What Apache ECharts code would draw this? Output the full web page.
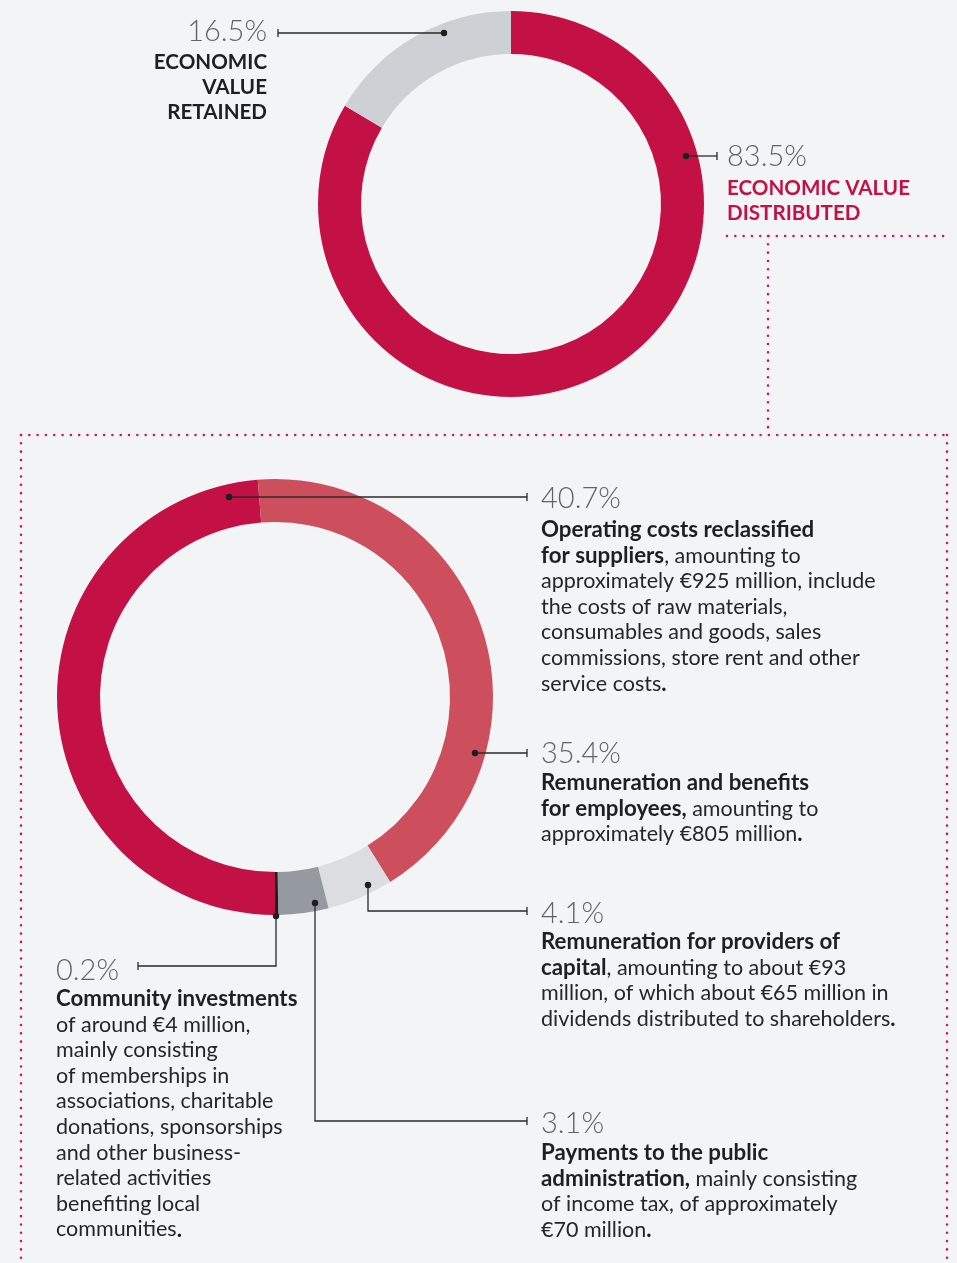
<!DOCTYPE html>
<html>
<head>
<meta charset="utf-8">
<script src="https://cdn.jsdelivr.net/npm/echarts@6/dist/echarts.min.js"></script>
<style>
html,body{margin:0;padding:0;background:#F3F4F6;}
#c{width:957px;height:1263px;}
</style>
</head>
<body>
<div id="c"></div>
<script>
// ---- data ----
const topCategories = ['Economic value distributed', 'Economic value retained'];
const topValues = [83.5, 16.5];
const bottomCategories = [
  'Operating costs reclassified for suppliers',
  'Remuneration and benefits for employees',
  'Remuneration for providers of capital',
  'Payments to the public administration',
  'Community investments'
];
const bottomValues = [40.7, 35.4, 4.1, 3.1, 0.2];

// ---- styles ----
const CRIMSON = '#C41145';
const topColors = [CRIMSON, '#CDD0D4'];
const bottomColors = [CRIMSON, '#CD4F5E', '#DCDDE0', '#959AA1', '#1E1E1E'];
const FONT = 'Lato, "Noto Sans", sans-serif';
const PCT_COLOR = '#5F646A';
const TXT = '#262626';
const LINE = '#2A2A2A';
const DOT = '#D3175A';

const chart = echarts.init(document.getElementById('c'), null, {renderer: 'canvas'});

function pct(v){ return v.toFixed(1) + '%'; }

const g = [];
const Z = 100;
// leader line helper: points from dot to tick
function leader(points, tickX, tickY){
  g.push({type:'polyline', z:Z, silent:true, shape:{points:points}, style:{stroke:LINE, lineWidth:1.3, fill:null}});
  g.push({type:'circle', z:Z, silent:true, shape:{cx:points[0][0], cy:points[0][1], r:3.2}, style:{fill:'#1E1E1E'}});
  g.push({type:'line', z:Z, silent:true, shape:{x1:tickX, y1:tickY-4, x2:tickX, y2:tickY+4}, style:{stroke:LINE, lineWidth:1.3}});
}
function dotted(x1,y1,x2,y2){
  g.push({type:'line', z:Z, silent:true, shape:{x1,y1,x2,y2}, style:{stroke:DOT, lineWidth:2.6, lineCap:'round', lineDash:[0.01, 8.3]}});
}
function pctText(s, x, y, align){
  g.push({type:'text', z:Z, silent:true, style:{text:s, x:x, y:y, textAlign:align||'left', textVerticalAlign:'middle',
    font:'300 29px ' + FONT, fill:PCT_COLOR}});
}
const rich = {
  b:{font:'bold 22.3px ' + FONT, fill:'#1F1F1F', lineHeight:25.6},
  r:{font:'21.5px ' + FONT, fill:TXT, lineHeight:25.6}
};
function body(lines, x, yFirstCenter){
  g.push({type:'text', z:Z, silent:true, style:{text:lines.join('\n'), x:x, y:yFirstCenter-12.8, textAlign:'left', textVerticalAlign:'top', rich:rich, font:'21.5px '+FONT, fill:TXT}});
}

// dotted frame
dotted(727, 236, 950, 236);
dotted(768, 236, 768, 435);
dotted(21, 435, 947, 435);
dotted(21, 435, 21, 1263);
dotted(947, 435, 947, 1263);

// top labels
leader([[444,33],[278,33]], 278, 33);
pctText(pct(topValues[1]), 267, 32, 'right');
g.push({type:'text', z:Z, silent:true, style:{text:'ECONOMIC\nVALUE\nRETAINED', x:267, y:50, textAlign:'right', textVerticalAlign:'top',
  font:'bold 20.6px ' + FONT, fill:'#1F1F1F', lineHeight:25}});
leader([[686,156],[717,156]], 717, 156);
pctText(pct(topValues[0]), 727, 157, 'left');
g.push({type:'text', z:Z, silent:true, style:{text:'ECONOMIC VALUE\nDISTRIBUTED', x:727, y:175.5, textAlign:'left', textVerticalAlign:'top',
  font:'bold 20.6px ' + FONT, fill:CRIMSON, lineHeight:25}});

// bottom labels
leader([[229,497],[527,497]], 527, 497);
pctText(pct(bottomValues[0]), 541, 499);
body(['{b|Operating costs reclassified}', '{b|for suppliers}{r|, amounting to}', '{r|approximately €925 million, include}',
  '{r|the costs of raw materials,}', '{r|consumables and goods, sales}', '{r|commissions, store rent and other}', '{r|service costs}{b|.}'], 541, 530);

leader([[475,753],[527,753]], 527, 753);
pctText(pct(bottomValues[1]), 541, 754);
body(['{b|Remuneration and benefits}', '{b|for employees,}{r| amounting to}', '{r|approximately €805 million}{b|.}'], 541, 783);

leader([[368,885],[368,911],[527,911]], 527, 911);
pctText(pct(bottomValues[2]), 541, 914);
body(['{b|Remuneration for providers of}', '{b|capital}{r|, amounting to about €93}', '{r|million, of which about €65 million in}', '{r|dividends distributed to shareholders}{b|.}'], 541, 942);

leader([[315,903],[315,1121],[527,1121]], 527, 1121);
pctText(pct(bottomValues[3]), 541, 1124);
body(['{b|Payments to the public}', '{b|administration,}{r| mainly consisting}', '{r|of income tax, of approximately}', '{r|€70 million}{b|.}'], 541, 1153);

leader([[276,916],[276,966],[138,966]], 138, 966);
pctText(pct(bottomValues[4]), 56, 971);
body(['{b|Community investments}', '{r|of around €4 million,}', '{r|mainly consisting}', '{r|of memberships in}', '{r|associations, charitable}',
  '{r|donations, sponsorships}', '{r|and other business-}', '{r|related activities}', '{r|benefiting local}', '{r|communities}{b|.}'], 56, 999);

chart.setOption({
  backgroundColor:'#F3F4F6',
  animation:false,
  series:[
    {
      type:'pie', z:2, silent:true, center:[511,204], radius:[150,193], startAngle:90, clockwise:true,
      label:{show:false}, labelLine:{show:false},
      itemStyle:{borderWidth:0},
      data: topValues.map((v,i)=>({name:topCategories[i], value:v, itemStyle:{color:topColors[i]}}))
    },
    {
      type:'pie', z:2, silent:true, center:[275,697], radius:[175,218], startAngle:-90, clockwise:true,
      label:{show:false}, labelLine:{show:false},
      itemStyle:{borderWidth:0},
      data: bottomValues.map((v,i)=>({name:bottomCategories[i], value:v, itemStyle:{color:bottomColors[i]}}))
    }
  ],
  graphic: g
});
</script>
</body>
</html>
